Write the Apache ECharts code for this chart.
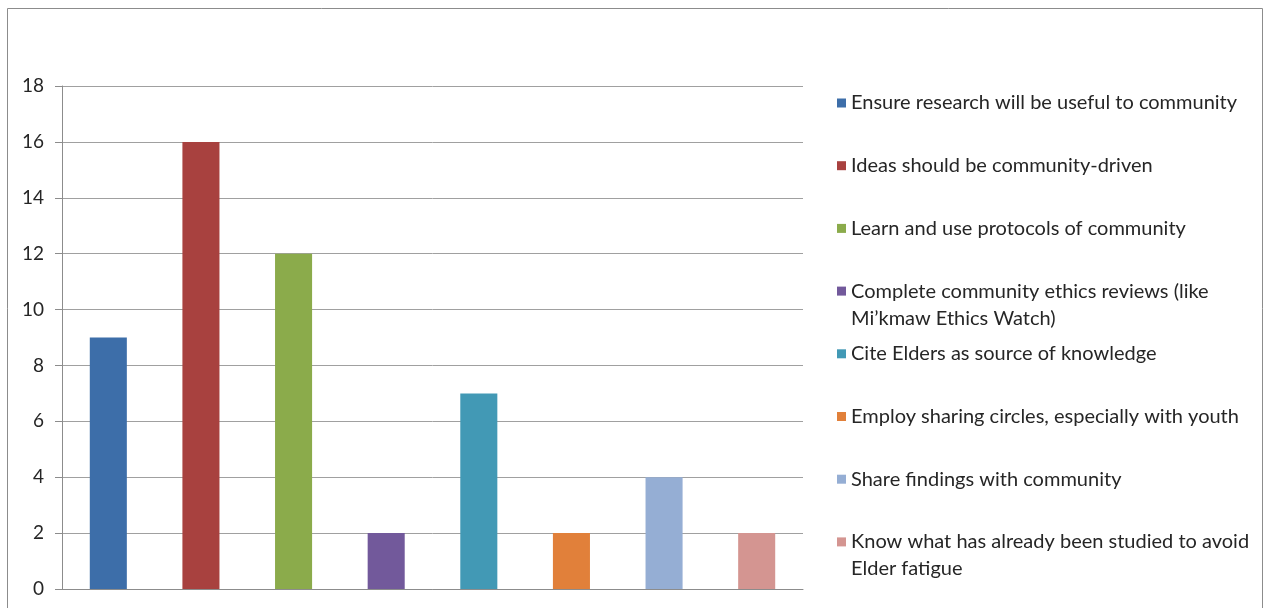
<!DOCTYPE html>
<html><head><meta charset="utf-8">
<script src="https://cdn.jsdelivr.net/npm/echarts@6/dist/echarts.min.js"></script>
<style>html,body{margin:0;padding:0;background:#fff}#c{width:1265px;height:608px}</style>
</head><body><div id="c"></div>
<script>
const categories = [
  "Ensure research will be useful to community",
  "Ideas should be community-driven",
  "Learn and use protocols of community",
  "Complete community ethics reviews (like\nMi\u2019kmaw Ethics Watch)",
  "Cite Elders as source of knowledge",
  "Employ sharing circles, especially with youth",
  "Share findings with community",
  "Know what has already been studied to avoid\nElder fatigue"
];
const values = [9, 16, 12, 2, 7, 2, 4, 2];
const colors = ["#3d6ea9", "#a8413f", "#8bab4b", "#72599b", "#4299b5", "#e1803a", "#95aed4", "#d49591"];
const yMin = 0, yMax = 18, yStep = 2;

const L = 27;            // legend line height
const firstCenter = 103; // first legend item centre
const step = 62.7;       // legend item spacing

const series = categories.map((name, i) => ({
  name: name,
  type: 'bar',
  stack: 'all',
  barWidth: '40%',
  itemStyle: { color: colors[i] },
  emphasis: { disabled: true },
  data: values.map((v, j) => (j === i ? v : '-'))
}));

const legends = categories.map((name, i) => {
  const two = name.indexOf('\n') >= 0;
  const c = firstCenter + step * i;
  return {
    left: 837,
    top: two ? c - 1.5 * L : c - L / 2,
    orient: 'vertical',
    padding: 0,
    itemWidth: 9,
    itemHeight: 9,
    itemGap: 0,
    icon: 'rect',
    selectedMode: false,
    data: [name],
    formatter: n => (n.indexOf('\n') >= 0 ? '\n' + n : n),
    textStyle: {
      fontFamily: 'Lato', fontSize: 20, color: '#262626', lineHeight: L
    }
  };
});

const chart = echarts.init(document.getElementById('c'));
chart.setOption({
  animation: false,
  backgroundColor: '#fff',
  graphic: [{
    type: 'rect', silent: true,
    shape: { x: 7.5, y: 8.5, width: 1255, height: 640 },
    style: { fill: 'none', stroke: '#8c8c8c', lineWidth: 1 }
  }],
  legend: legends,
  grid: { left: 62, right: 462, top: 86, bottom: 19, containLabel: false },
  xAxis: {
    type: 'category',
    data: categories,
    axisLabel: { show: false },
    axisTick: { show: false },
    axisLine: { lineStyle: { color: '#8c8c8c', width: 1 } },
    splitLine: { show: false }
  },
  yAxis: {
    type: 'value',
    min: yMin, max: yMax, interval: yStep,
    axisLine: { show: true, lineStyle: { color: '#8c8c8c', width: 1 } },
    axisTick: { show: true, length: 7, lineStyle: { color: '#8c8c8c' } },
    axisLabel: { margin: 18, fontFamily: 'Lato', fontSize: 19, color: '#262626' },
    splitLine: { lineStyle: { color: '#a0a0a0', width: 1 } }
  },
  series: series
});
</script>
</body></html>
